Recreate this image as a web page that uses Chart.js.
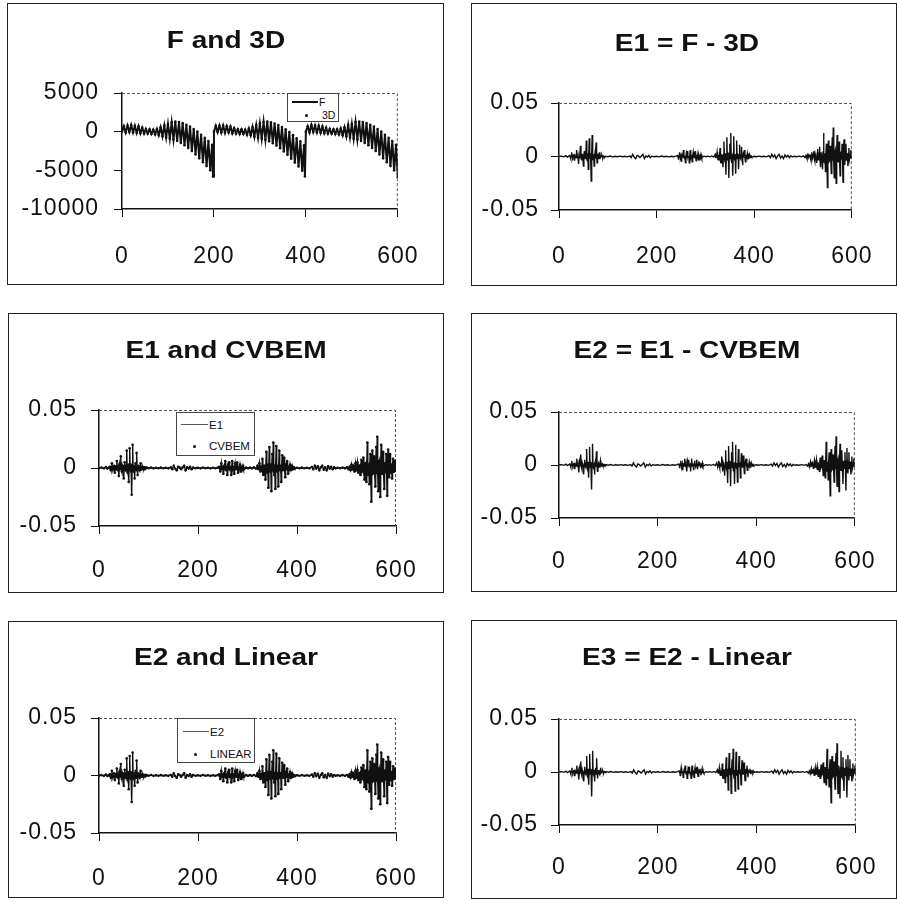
<!DOCTYPE html>
<html>
<head>
<meta charset="utf-8">
<script src="https://cdn.jsdelivr.net/npm/chart.js@4.4.1/dist/chart.umd.min.js"></script>
<style>
  body { margin: 0; background: #fff; }
  #page { position: relative; width: 897px; height: 902px; overflow: hidden; background: #fff;
          font-family: "Liberation Sans", Arial, sans-serif; color: #111; }
  .box { position: absolute; border: 1px solid #222; box-sizing: border-box; }
  .box canvas { position: absolute; left: 0; top: 0; }
  .title { position: absolute; width: 400px; height: 28px; line-height: 28px; text-align: center;
           font-weight: bold; font-size: 23px; transform: scaleX(1.22); transform-origin: 50% 50%; }
  .legend { position: absolute; border: 1px solid #444; background: #fff; box-sizing: border-box; }
  .legend span { position: absolute; }
  .ltxt { font-size: 11.5px; line-height: 12px; white-space: nowrap; color: #111; }
  .ldot { width: 3px; height: 3px; border-radius: 50%; background: #111; }
</style>
</head>
<body>
<div id="page"></div>
<script>
const xTicks = [0, 200, 400, 600];
const fTicks = [-10000, -5000, 0, 5000];
const eTicks = [-0.05, 0, 0.05];

// F and 3D (3D dots sit on the F line)
const fX = [
  0, 4, 8, 12, 16, 20, 24, 28, 32, 36,
  40, 44, 48, 52, 56, 60, 64, 68, 72, 76,
  80, 84, 88, 92, 96, 100, 104, 108, 112, 116,
  120, 124, 128, 132, 136, 140, 144, 148, 152, 156,
  160, 164, 168, 172, 176, 180, 184, 188, 192, 196, 198,
  200, 204, 208, 212, 216, 220, 224, 228, 232, 236,
  240, 244, 248, 252, 256, 260, 264, 268, 272, 276,
  280, 284, 288, 292, 296, 300, 304, 308, 312, 316,
  320, 324, 328, 332, 336, 340, 344, 348, 352, 356,
  360, 364, 368, 372, 376, 380, 384, 388, 392, 396, 398,
  400, 404, 408, 412, 416, 420, 424, 428, 432, 436,
  440, 444, 448, 452, 456, 460, 464, 468, 472, 476,
  480, 484, 488, 492, 496, 500, 504, 508, 512, 516,
  520, 524, 528, 532, 536, 540, 544, 548, 552, 556,
  560, 564, 568, 572, 576, 580, 584, 588, 592, 596, 600
];
const fY = [
  0, 700, -100, 800, -50, 850, -100, 750, -150, 700,
  -200, 500, -250, 350, -250, 300, -300, 250, -350, 350,
  -450, 550, -600, 800, -750, 1000, -900, 1200, -1000, 1300,
  -1200, 1250, -1450, 1100, -1750, 900, -2100, 650, -2500, 350,
  -2950, 0, -3450, -400, -3950, -800, -4450, -1200, -5000, -1700, -5800,
  0, 750, -50, 800, -100, 800, -150, 700, -100, 650,
  -200, 450, -250, 300, -300, 300, -300, 250, -400, 400,
  -450, 600, -650, 850, -800, 1050, -900, 1250, -1050, 1300,
  -1250, 1200, -1500, 1050, -1800, 850, -2150, 600, -2550, 300,
  -3000, -50, -3500, -450, -4000, -850, -4500, -1250, -5050, -1750, -5800,
  0, 700, -100, 850, -50, 800, -100, 750, -150, 650,
  -200, 500, -250, 350, -250, 300, -300, 300, -350, 400,
  -450, 550, -600, 850, -750, 1000, -900, 1250, -1000, 1300,
  -1200, 1250, -1450, 1100, -1750, 900, -2100, 650, -2500, 350,
  -2950, 0, -3450, -400, -3950, -800, -4450, -1200, -5000, -1700, -5900
];

// error trace (same line layout in both arrays)
const errX = [
  0, 5, 10, 14, 17, 20,
  22, 23, 24, 25, 26, 27, 28, 29, 30, 31,
  32, 33, 34, 35, 36, 37, 38, 39, 40, 41,
  42, 43, 44, 45, 46, 47, 48, 49, 50, 51,
  52, 53, 54, 55, 56, 57, 58, 59, 60, 61,
  62, 63, 64, 65, 66, 67, 68, 69, 70, 71,
  72, 73, 74, 75, 76, 77, 78, 79, 80, 81,
  82, 83, 84, 85, 86, 87, 88, 89, 90, 91,
  92, 93, 94, 95, 96,
  100, 105, 110, 115, 120, 125, 130, 135, 140,
  145, 148, 151, 154, 157, 160, 163, 166, 169, 172, 175, 178, 181, 184, 187, 190,
  195, 200, 205, 210, 215, 220, 225, 230, 235, 240,
  243, 244, 245, 246, 247, 248, 249, 250, 251, 252,
  253, 254, 255, 256, 257, 258, 259, 260, 261, 262,
  263, 264, 265, 266, 267, 268, 269, 270, 271, 272,
  273, 274, 275, 276, 277, 278, 279, 280, 281, 282,
  283, 284, 285, 286, 287, 288, 289, 290, 291, 292,
  293,
  297, 301, 305, 309, 313, 317,
  320, 321, 322, 323, 324, 325, 326, 327, 328, 329,
  330, 331, 332, 333, 334, 335, 336, 337, 338, 339,
  340, 341, 342, 343, 344, 345, 346, 347, 348, 349,
  350, 351, 352, 353, 354, 355, 356, 357, 358, 359,
  360, 361, 362, 363, 364, 365, 366, 367, 368, 369,
  370, 371, 372, 373, 374, 375, 376, 377, 378, 379,
  380, 381, 382, 383, 384, 385, 386, 387, 388, 389,
  390, 391, 392, 393, 394, 395, 396,
  400, 405, 410, 415, 420, 425,
  430, 433, 436, 439, 442, 445, 448, 451, 454, 457, 460, 463, 466, 469, 472, 475, 478,
  482, 487, 492, 497, 501, 504,
  506, 507, 508, 509, 510, 511, 512, 513, 514, 515,
  516, 517, 518, 519, 520, 521, 522, 523, 524, 525,
  526, 527, 528, 529, 530, 531, 532, 533, 534, 535,
  536, 537, 538, 539, 540, 541, 542, 543, 544, 545,
  546, 547, 548, 549, 550, 551, 552, 553, 554, 555,
  556, 557, 558, 559, 560, 561, 562, 563, 564, 565,
  566, 567, 568, 569, 570, 571, 572, 573, 574, 575,
  576, 577, 578, 579, 580, 581, 582, 583, 584, 585,
  586, 587, 588, 589, 590, 591, 592, 593, 594, 595,
  596, 597, 598, 599, 600
];
const e1Y = [
  0, 0.0003, -0.0003, 0.0008, -0.0005, 0.0003,
  0.001, -0.0005, -0.002, 0.0005, 0.004, 0, -0.001, 0.0005, 0.002, -0.0005,
  -0.004, 0.001, 0.001, -0.001, 0.006, 0.001, -0.002, 0.0005, -0.007, -0.001,
  0.003, 0.001, 0.01, -0.001, -0.003, 0.002, 0.002, -0.002, -0.009, 0.001,
  0.005, -0.001, -0.002, 0.002, 0.015, -0.002, -0.004, 0.003, -0.012, 0.002,
  0.017, -0.002, 0.003, -0.003, -0.023, 0.002, 0.02, -0.002, -0.003, 0.002,
  -0.009, 0.001, 0.004, -0.002, 0.013, 0.001, -0.006, 0.001, 0.002, -0.001,
  -0.002, 0.001, 0.004, -0.001, -0.001, 0.0005, 0.001, -0.0005, -0.001, 0.0005,
  0.0005, -0.0003, -0.0005, 0.0003, 0.0003,
  -0.0002, 0.0004, -0.0003, 0.0002, -0.0002, 0.0003, -0.0002, 0.0002, -0.0003,
  0.0005, -0.001, 0.002, -0.0005, -0.002, 0.001, 0.0003, -0.001, 0.0005, 0.002, -0.002, 0.0005, -0.0005, 0.001, -0.001, 0.0003,
  -0.0002, 0.0002, -0.0003, 0.0004, -0.0002, 0.0002, -0.0003, 0.0002, -0.0002, 0.0003,
  0.001, -0.0005, -0.003, 0.0005, 0.004, -0.0005, -0.001, 0.001, -0.005, 0.0005,
  0.002, -0.001, 0.006, 0.0005, -0.002, 0.001, -0.006, -0.0005, 0.003, 0.001,
  0.005, -0.001, -0.001, 0.0005, -0.006, 0.001, 0.006, -0.001, 0.001, 0.0005,
  -0.005, 0.001, 0.004, -0.0005, -0.001, 0.0005, 0.005, -0.001, -0.004, 0.0005,
  0.001, -0.0005, 0.003, 0.0005, -0.003, 0.0005, 0.001, -0.0005, 0.002, 0,
  -0.001,
  0.0003, -0.0002, 0.0003, -0.0003, 0.0005, -0.0005,
  0.002, -0.0005, -0.001, 0.0005, 0.004, -0.001, -0.003, 0.001, 0.001, -0.001,
  0.008, -0.001, -0.006, 0.002, 0.002, -0.002, -0.01, 0.002, 0.014, -0.002,
  -0.004, 0.003, -0.017, 0.002, 0.018, -0.003, 0.003, 0.002, -0.02, 0.003,
  0.012, -0.002, 0.022, -0.003, -0.006, 0.002, -0.018, 0.003, 0.019, -0.002,
  -0.003, 0.002, -0.016, 0.002, 0.015, -0.002, 0.002, 0.001, -0.012, 0.002,
  0.011, -0.001, -0.002, 0.001, 0.009, -0.001, -0.008, 0.001, 0.003, -0.001,
  0.006, -0.001, -0.005, 0.001, 0.001, -0.0005, 0.003, 0.0005, -0.002, 0.0005,
  0.002, -0.0005, -0.001, 0.0003, 0.0005, -0.0003, -0.0003,
  0.0002, -0.0002, 0.0003, -0.0002, 0.0002, -0.0003,
  0.0008, -0.001, 0.002, -0.0005, 0.0015, -0.002, 0.0005, 0.002, -0.0015, 0.0005, -0.002, 0.0015, -0.0005, 0.001, -0.001, 0.0005, -0.0003,
  0.0002, -0.0002, 0.0003, -0.0003, 0.0005, -0.001,
  0.001, -0.0005, -0.002, 0.001, 0.003, -0.001, -0.001, 0.001, 0.002, -0.001,
  -0.003, 0.001, 0.004, -0.002, -0.002, 0.002, 0.005, -0.002, -0.004, 0.002,
  0.002, -0.003, -0.006, 0.003, 0.007, -0.003, -0.002, 0.003, 0.009, -0.004,
  -0.01, 0.004, 0.004, -0.003, -0.012, 0.005, 0.022, -0.004, -0.006, 0.003,
  -0.014, 0.004, 0.012, -0.005, -0.029, 0.004, 0.015, -0.005, -0.004, 0.004,
  0.01, -0.004, -0.016, 0.005, 0.018, -0.004, 0.027, -0.005, -0.02, 0.004,
  0.006, -0.005, -0.025, 0.004, 0.02, -0.004, -0.005, 0.004, 0.014, -0.005,
  -0.018, 0.004, 0.004, -0.003, 0.012, -0.004, -0.024, 0.004, 0.016, -0.004,
  -0.008, 0.003, 0.012, -0.004, -0.004, 0.003, -0.009, 0.003, 0.008, -0.003,
  -0.003, 0.002, 0.006, -0.002, -0.002
];
// at this scale E2 and E3 look the same as E1
const e2Y = e1Y.slice();
const e3Y = e1Y.slice();

const FONT = "'Liberation Sans', Arial, sans-serif";
const TICK = 8;

function pts(xs, ys) {
  return xs.map((x, i) => ({ x: x, y: ys[i] }));
}

// dotted frame on top and right of the plot area
const frame = {
  id: "frame",
  beforeDraw(chart) {
    chart.ctx.letterSpacing = "1px";
  },
  beforeDatasetsDraw(chart) {
    const { ctx, chartArea: a } = chart;
    ctx.save();
    ctx.strokeStyle = "#555";
    ctx.lineWidth = 1;
    ctx.setLineDash([3, 2]);
    ctx.beginPath();
    ctx.moveTo(a.left, a.top + 0.5);
    ctx.lineTo(a.right - 0.5, a.top + 0.5);
    ctx.lineTo(a.right - 0.5, a.bottom);
    ctx.stroke();
    ctx.restore();
  }
};

const panels = [
  { title: "F and 3D", titleX: 226, titleY: 40, box: [7, 3, 444, 285], plot: [122, 93, 404, 209],
    yLabelRight: 99, xLabelY: 255, yMin: -10000, yMax: 5000, yTicks: fTicks,
    xs: fX, line: fY, dots: fY, lineWidth: 2 },
  { title: "E1 = F - 3D", titleX: 687, titleY: 43, box: [471, 3, 897, 286], plot: [559, 103, 874, 210],
    yLabelRight: 539, xLabelY: 255, yMin: -0.05, yMax: 0.05, yTicks: eTicks,
    xs: errX, line: e1Y, dots: null, lineWidth: 1.4 },
  { title: "E1 and CVBEM", titleX: 226, titleY: 350, box: [8, 313, 444, 593], plot: [99, 410, 396, 526],
    yLabelRight: 77, xLabelY: 569, yMin: -0.05, yMax: 0.05, yTicks: eTicks,
    xs: errX, line: e1Y, dots: e1Y, lineWidth: 1.4 },
  { title: "E2 = E1 - CVBEM", titleX: 687, titleY: 350, box: [471, 313, 897, 592], plot: [559, 412, 873, 518],
    yLabelRight: 538, xLabelY: 560, yMin: -0.05, yMax: 0.05, yTicks: eTicks,
    xs: errX, line: e2Y, dots: null, lineWidth: 1.4 },
  { title: "E2 and Linear", titleX: 226, titleY: 657, box: [8, 621, 444, 898], plot: [99, 718, 396, 833],
    yLabelRight: 77, xLabelY: 877, yMin: -0.05, yMax: 0.05, yTicks: eTicks,
    xs: errX, line: e2Y, dots: e2Y, lineWidth: 1.4 },
  { title: "E3 = E2 - Linear", titleX: 687, titleY: 657, box: [471, 620, 897, 899], plot: [559, 719, 873, 825],
    yLabelRight: 538, xLabelY: 866, yMin: -0.05, yMax: 0.05, yTicks: eTicks,
    xs: errX, line: e3Y, dots: null, lineWidth: 1.4 }
];

const page = document.getElementById("page");

panels.forEach(function (p) {
  const [bx, by, bx2, by2] = p.box;
  const [L, T, R, B] = p.plot;
  const box = document.createElement("div");
  box.className = "box";
  box.style.left = bx + "px";
  box.style.top = by + "px";
  box.style.width = bx2 - bx + "px";
  box.style.height = by2 - by + "px";
  page.appendChild(box);

  const ox = bx + 1, oy = by + 1;
  const cw = bx2 - bx - 2, ch = by2 - by - 2;
  const canvas = document.createElement("canvas");
  canvas.width = cw;
  canvas.height = ch;
  canvas.style.width = cw + "px";
  canvas.style.height = ch + "px";
  box.appendChild(canvas);

  const title = document.createElement("div");
  title.className = "title";
  title.textContent = p.title;
  title.style.left = p.titleX - 200 + "px";
  title.style.top = p.titleY - 14 + "px";
  page.appendChild(title);

  const datasets = [];
  if (p.dots) {
    datasets.push({
      label: "dots",
      data: pts(p.xs, p.dots),
      showLine: false,
      pointRadius: 1.3,
      pointBackgroundColor: "#111",
      pointBorderWidth: 0
    });
  }
  datasets.push({
    label: "line",
    data: pts(p.xs, p.line),
    showLine: true,
    borderColor: "#111",
    borderWidth: p.lineWidth,
    pointRadius: 0,
    tension: 0
  });

  const tickFont = { family: FONT, size: 23 };
  const axisGrid = { drawOnChartArea: false, drawTicks: true, tickLength: TICK, color: "#111", lineWidth: 1 };
  const axisBorder = { display: true, color: "#111", width: 1.5 };

  new Chart(canvas.getContext("2d"), {
    type: "scatter",
    data: { datasets: datasets },
    plugins: [frame],
    options: {
      responsive: false,
      animation: false,
      devicePixelRatio: 1,
      layout: { padding: { left: 0, top: T - oy, right: ox + cw - R, bottom: 0 } },
      plugins: { legend: { display: false }, tooltip: { enabled: false }, title: { display: false } },
      scales: {
        x: {
          type: "linear",
          min: 0,
          max: 600,
          afterBuildTicks: (a) => { a.ticks = xTicks.map((v) => ({ value: v })); },
          afterFit: (s) => { s.height = oy + ch - B; },
          ticks: { font: tickFont, color: "#111", padding: p.xLabelY - B - TICK - 12,
                   maxRotation: 0, autoSkip: false, callback: (v) => String(v) },
          grid: axisGrid,
          border: axisBorder
        },
        y: {
          type: "linear",
          min: p.yMin,
          max: p.yMax,
          afterBuildTicks: (a) => { a.ticks = p.yTicks.map((v) => ({ value: v })); },
          afterFit: (s) => { s.width = L - ox; },
          ticks: { font: tickFont, color: "#111", padding: L - TICK - p.yLabelRight,
                   callback: (v) => String(Math.round(v * 1000) / 1000) },
          grid: axisGrid,
          border: axisBorder
        }
      }
    }
  });
});

// legends
function legend(left, top, w, h, items) {
  const el = document.createElement("div");
  el.className = "legend";
  el.style.left = left + "px";
  el.style.top = top + "px";
  el.style.width = w + "px";
  el.style.height = h + "px";
  items.forEach(function (it) {
    const s = document.createElement("span");
    if (it.kind === "line") {
      s.style.left = it.x + "px";
      s.style.top = it.y + "px";
      s.style.width = it.w + "px";
      s.style.borderTop = it.style;
    } else if (it.kind === "dot") {
      s.className = "ldot";
      s.style.left = it.x + "px";
      s.style.top = it.y + "px";
    } else {
      s.className = "ltxt";
      s.textContent = it.text;
      s.style.left = it.x + "px";
      s.style.top = it.y + "px";
      s.style.fontSize = it.size + "px";
    }
    el.appendChild(s);
  });
  page.appendChild(el);
}

legend(287, 93, 52, 29, [
  { kind: "line", x: 4, y: 7, w: 26, style: "2px solid #111" },
  { kind: "text", text: "F", x: 31, y: 2, size: 10.5 },
  { kind: "dot", x: 17, y: 20 },
  { kind: "text", text: "3D", x: 34, y: 15, size: 10.5 }
]);
legend(176, 412, 79, 44, [
  { kind: "line", x: 4, y: 11, w: 27, style: "1.5px solid #555" },
  { kind: "text", text: "E1", x: 32, y: 6, size: 11.5 },
  { kind: "dot", x: 16, y: 32 },
  { kind: "text", text: "CVBEM", x: 32, y: 27, size: 11.5 }
]);
legend(177, 718, 78, 45, [
  { kind: "line", x: 5, y: 12, w: 26, style: "1.5px solid #555" },
  { kind: "text", text: "E2", x: 32, y: 7, size: 11.5 },
  { kind: "dot", x: 16, y: 34 },
  { kind: "text", text: "LINEAR", x: 32, y: 29, size: 11.5 }
]);
</script>
</body>
</html>
